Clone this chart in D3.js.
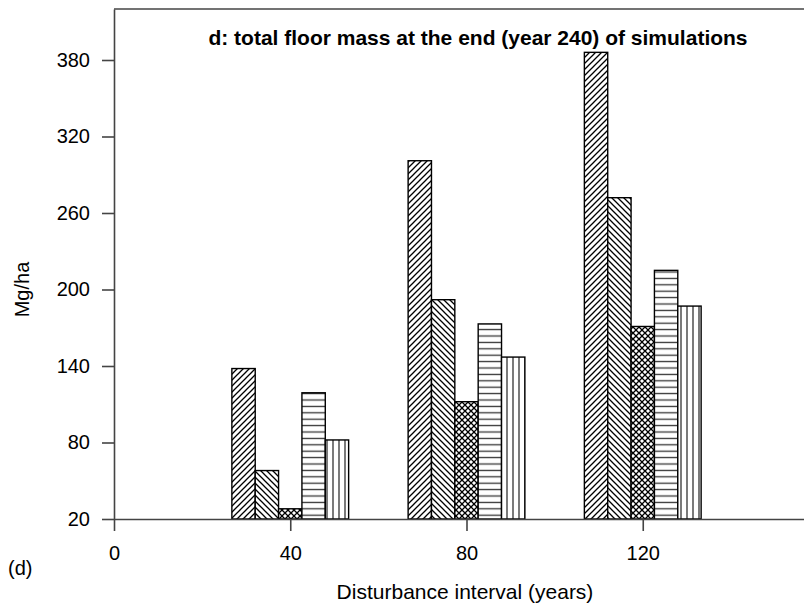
<!DOCTYPE html>
<html>
<head>
<meta charset="utf-8">
<script src="https://cdn.jsdelivr.net/npm/d3@7"></script>
<style>
  body { margin: 0; background: #fff; }
  svg { display: block; font-family: "Liberation Sans", Arial, Helvetica, sans-serif; }
  .axis text { font-size: 20px; fill: #000; }
  .axis line, .axis path { stroke: #444; stroke-width: 1.6; }
  .bar { stroke: #000; stroke-width: 1.4; }
</style>
</head>
<body>
<div id="chart"></div>
<script>
const width = 804;
const height = 606;

// disturbance intervals (years)
const intervals = [40, 80, 120];
// total floor mass (Mg/ha) at year 240, one array per simulation series
const series1 = [138, 301, 386];
const series2 = [58, 192, 272];
const series3 = [28, 112, 171];
const series4 = [119, 173, 215];
const series5 = [82, 147, 187];
const seriesList = [series1, series2, series3, series4, series5];
const patternIds = ["hatch-fwd", "hatch-back", "hatch-cross", "hatch-horiz", "hatch-vert"];

const yTicks = [20, 80, 140, 200, 260, 320, 380];
const xTicks = [0, 40, 80, 120];

const barWidth = 5.3; // in years

const x = d3.scaleLinear().domain([0, 160]).range([114, 819]);
const y = d3.scaleLinear().domain([20, 420]).range([519, 9]);

const svg = d3
  .select("#chart")
  .append("svg")
  .attr("width", width)
  .attr("height", height);

const defs = svg.append("defs");

function makePattern(id, size, draw) {
  const p = defs
    .append("pattern")
    .attr("id", id)
    .attr("patternUnits", "userSpaceOnUse")
    .attr("width", size)
    .attr("height", size);
  p.append("rect").attr("width", size).attr("height", size).attr("fill", "#fff");
  draw(p, size);
}

makePattern("hatch-fwd", 6, (p, s) => {
  p.append("path")
    .attr("d", `M0,${s} L${s},0 M${-s / 2},${s / 2} L${s / 2},${-s / 2} M${s / 2},${s * 1.5} L${s * 1.5},${s / 2}`)
    .attr("stroke", "#000")
    .attr("stroke-width", 1.3);
});

makePattern("hatch-back", 6, (p, s) => {
  p.append("path")
    .attr("d", `M0,0 L${s},${s} M${-s / 2},${s / 2} L${s / 2},${s * 1.5} M${s / 2},${-s / 2} L${s * 1.5},${s / 2}`)
    .attr("stroke", "#000")
    .attr("stroke-width", 1.3);
});

makePattern("hatch-cross", 6, (p, s) => {
  p.append("path")
    .attr("d", `M0,0 L${s},${s} M0,${s} L${s},0`)
    .attr("stroke", "#000")
    .attr("stroke-width", 1.3);
});

makePattern("hatch-horiz", 6.4, (p, s) => {
  p.append("line")
    .attr("x1", 0)
    .attr("x2", s)
    .attr("y1", s / 2)
    .attr("y2", s / 2)
    .attr("stroke", "#333")
    .attr("stroke-width", 1.3);
});

makePattern("hatch-vert", 6, (p, s) => {
  p.append("line")
    .attr("x1", s / 2)
    .attr("x2", s / 2)
    .attr("y1", 0)
    .attr("y2", s)
    .attr("stroke", "#333")
    .attr("stroke-width", 1.3);
});

// bars
const bars = [];
seriesList.forEach((values, i) => {
  values.forEach((v, j) => {
    bars.push({ series: i, interval: intervals[j], value: v });
  });
});

svg
  .append("g")
  .selectAll("rect")
  .data(bars)
  .enter()
  .append("rect")
  .attr("class", "bar")
  .attr("x", (d) => x(d.interval + (d.series - 2.5) * barWidth))
  .attr("width", (d) => x(barWidth) - x(0))
  .attr("y", (d) => y(d.value))
  .attr("height", (d) => y(20) - y(d.value))
  .attr("fill", (d) => `url(#${patternIds[d.series]})`);

// axes
svg
  .append("g")
  .attr("class", "axis")
  .attr("transform", `translate(0,${y(20)})`)
  .call(d3.axisBottom(x).tickValues(xTicks).tickSize(12).tickSizeOuter(0).tickPadding(15))
  .call((g) => g.selectAll("text").attr("dy", "0.71em"));

svg
  .append("g")
  .attr("class", "axis")
  .attr("transform", `translate(${x(0)},0)`)
  .call(d3.axisLeft(y).tickValues(yTicks).tickSize(12).tickSizeOuter(0).tickPadding(12));

// top frame line
svg
  .append("line")
  .attr("x1", x(0))
  .attr("x2", x(160))
  .attr("y1", y(420))
  .attr("y2", y(420))
  .attr("stroke", "#444")
  .attr("stroke-width", 1.6);

// texts
svg
  .append("text")
  .attr("x", 478)
  .attr("y", 45)
  .attr("text-anchor", "middle")
  .attr("font-size", 21)
  .attr("font-weight", "bold")
  .text("d: total floor mass at the end (year 240) of simulations");

svg
  .append("text")
  .attr("transform", `translate(29,${y(200)}) rotate(-90)`)
  .attr("text-anchor", "middle")
  .attr("font-size", 20)
  .text("Mg/ha");

svg
  .append("text")
  .attr("x", 465)
  .attr("y", 599)
  .attr("text-anchor", "middle")
  .attr("font-size", 21)
  .text("Disturbance interval (years)");

svg
  .append("text")
  .attr("x", 8)
  .attr("y", 575)
  .attr("font-size", 20)
  .text("(d)");
</script>
</body>
</html>
